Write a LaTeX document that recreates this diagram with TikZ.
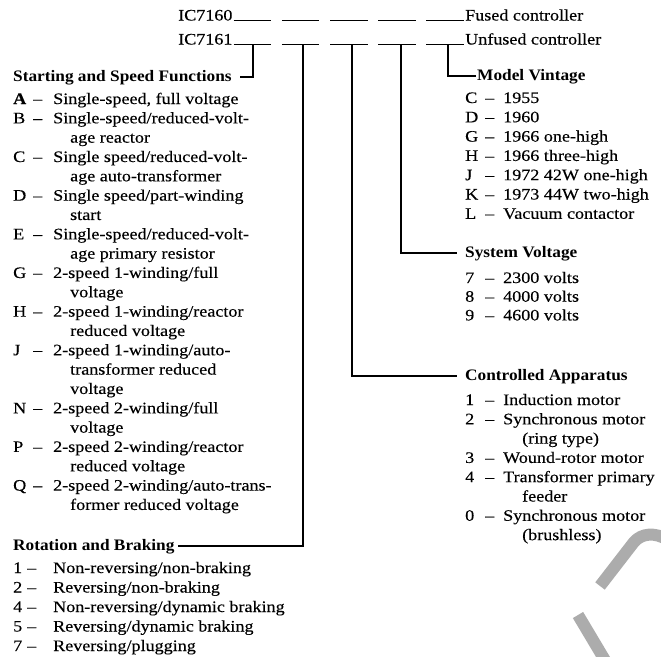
\documentclass[tikz,border=0pt]{standalone}
\usepackage{fontspec}
\setmainfont{Liberation Serif}[FakeStretch=1.13, FakeBold=0.25]
\newfontfamily\titlefont{Liberation Serif}[FakeStretch=1.08]
\newcommand\Lent[2]{\makebox[20pt][l]{#1}\makebox[20pt][l]{\textendash}#2}
\newcommand\Aent[2]{\makebox[14pt][l]{#1}\makebox[26pt][l]{\textendash}#2}
\newcommand\Rent[2]{\makebox[20pt][l]{#1}\makebox[18pt][l]{\textendash}#2}
\newcommand\cnt[1]{\hspace*{57pt}#1}
\tikzset{
  txt/.style={anchor=base west, inner sep=0pt, font=\fontsize{16}{19}\selectfont},
  ttl/.style={anchor=base west, inner sep=0pt, font=\titlefont\bfseries\fontsize{16}{19}\selectfont},
  dashline/.style={line width=1.6pt, dash pattern=on 37.5pt off 10.7pt},
  conn/.style={line width=1.6pt},
  wm/.style={line width=12pt, draw=gray!65}
}
\begin{document}
\begin{tikzpicture}[x=1pt,y=-1pt]
\useasboundingbox (0,0) rectangle (661,656);
% header codes
\node[txt] (ic0) at (178,20.5) {IC7160};
\node[txt] (ic1) at (178,44.5) {IC7161};
\node[txt] (fc) at (465,20.5) {Fused controller};
\node[txt] (uc) at (465,44.5) {Unfused controller};
\draw[dashline] ([xshift=1pt]ic0.base east) -- (fc.base west);
\draw[dashline] ([xshift=1pt]ic1.base east) -- (uc.base west);
% junctions on the IC7161 row
\coordinate (j1) at (253,44.5);
\coordinate (j2) at (303,44.5);
\coordinate (j3) at (352,44.5);
\coordinate (j4) at (401,44.5);
\coordinate (j5) at (448,44.5);
% titles
\node[ttl] (ssf) at (13,81) {Starting and Speed Functions};
\node[ttl] (rb) at (13,550) {Rotation and Braking};
\node[ttl] (mv) at (477,80) {Model Vintage};
\node[ttl] (sv) at (465,257) {System Voltage};
\node[ttl] (ca) at (465,380) {Controlled Apparatus};
% connectors
\draw[conn] (j1) |- ([xshift=8pt]ssf.east);
\draw[conn] (j2) |- ([xshift=3pt]rb.east);
\draw[conn] (j3) |- ([xshift=-8pt]ca.west);
\draw[conn] (j4) |- ([xshift=-8pt]sv.west);
\draw[conn] (j5) |- ([xshift=-1pt]mv.west);
% starting and speed functions
\foreach \t [count=\k from 0] in {
 {\Lent{\textbf{A}}{Single-speed, full voltage}},
 {\Lent{B}{Single-speed/reduced-volt-}},
 {\cnt{age reactor}},
 {\Lent{C}{Single speed/reduced-volt-}},
 {\cnt{age auto-transformer}},
 {\Lent{D}{Single speed/part-winding}},
 {\cnt{start}},
 {\Lent{E}{Single-speed/reduced-volt-}},
 {\cnt{age primary resistor}},
 {\Lent{G}{2-speed 1-winding/full}},
 {\cnt{voltage}},
 {\Lent{H}{2-speed 1-winding/reactor}},
 {\cnt{reduced voltage}},
 {\Lent{J}{2-speed 1-winding/auto-}},
 {\cnt{transformer reduced}},
 {\cnt{voltage}},
 {\Lent{N}{2-speed 2-winding/full}},
 {\cnt{voltage}},
 {\Lent{P}{2-speed 2-winding/reactor}},
 {\cnt{reduced voltage}},
 {\Lent{Q}{2-speed 2-winding/auto-trans-}},
 {\cnt{former reduced voltage}}}
 \node[txt] (s\k) at (13,{104+19.33*\k}) {\t};
% rotation and braking
\foreach \t [count=\k from 0] in {
 {\Aent{1}{Non-reversing/non-braking}},
 {\Aent{2}{Reversing/non-braking}},
 {\Aent{4}{Non-reversing/dynamic braking}},
 {\Aent{5}{Reversing/dynamic braking}},
 {\Aent{7}{Reversing/plugging}}}
 \node[txt] (r\k) at (13,{573+19.5*\k}) {\t};
% model vintage
\foreach \t [count=\k from 0] in {
 {\Rent{C}{1955}},
 {\Rent{D}{1960}},
 {\Rent{G}{1966 one-high}},
 {\Rent{H}{1966 three-high}},
 {\Rent{J}{1972 42W one-high}},
 {\Rent{K}{1973 44W two-high}},
 {\Rent{L}{Vacuum contactor}}}
 \node[txt] (m\k) at (465,{103+19.3*\k}) {\t};
% system voltage
\foreach \t [count=\k from 0] in {
 {\Rent{7}{2300 volts}},
 {\Rent{8}{4000 volts}},
 {\Rent{9}{4600 volts}}}
 \node[txt] (v\k) at (465,{283+18.7*\k}) {\t};
% controlled apparatus
\foreach \t [count=\k from 0] in {
 {\Rent{1}{Induction motor}},
 {\Rent{2}{Synchronous motor}},
 {\cnt{(ring type)}},
 {\Rent{3}{Wound-rotor motor}},
 {\Rent{4}{Transformer primary}},
 {\cnt{feeder}},
 {\Rent{0}{Synchronous motor}},
 {\cnt{(brushless)}}}
 \node[txt] (c\k) at (465,{405+19.3*\k}) {\t};
% watermark fragment
\draw[wm] (578,615) -- (606,662);
\draw[wm] (600,586) -- (634,542) .. controls (642,533) and (655,532) .. (668,540);
\end{tikzpicture}
\end{document}
